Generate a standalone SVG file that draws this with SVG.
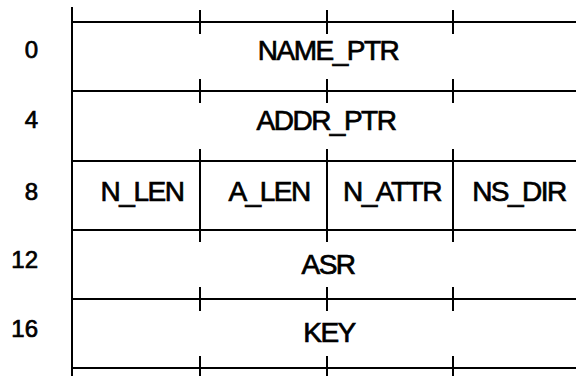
<svg xmlns="http://www.w3.org/2000/svg" width="576" height="376" viewBox="0 0 576 376">
<style>
.ln{stroke:#000;stroke-width:2;fill:none}
.lab{font-family:"Liberation Sans",Arial,sans-serif;font-size:28px;letter-spacing:-1.5px;text-anchor:middle;fill:#000;stroke:#000;stroke-width:0.7px}
.off{font-family:"Liberation Sans",Arial,sans-serif;font-size:24px;text-anchor:end;fill:#000;stroke:#000;stroke-width:0.7px}
</style>
<rect width="576" height="376" fill="#fff"/>
<g id="grid" class="ln">
<line x1="72" y1="7" x2="72" y2="376"/>
<line x1="72" y1="22" x2="576" y2="22"/>
<line x1="72" y1="91" x2="576" y2="91"/>
<line x1="72" y1="161" x2="576" y2="161"/>
<line x1="72" y1="230" x2="576" y2="230"/>
<line x1="72" y1="299" x2="576" y2="299"/>
<line x1="72" y1="368" x2="576" y2="368"/>
<path d="M200 10V34M327 10V34M453 10V34"/>
<path d="M200 79V103M327 79V103M453 79V103"/>
<path d="M200 149V242M327 149V242M453 149V242"/>
<path d="M200 287V311M327 287V311M453 287V311"/>
<path d="M200 356V376M327 356V376M453 356V376"/>
</g>
<g id="offsets">
<text class="off" x="38" y="58">0</text>
<text class="off" x="38" y="128">4</text>
<text class="off" x="38" y="199.5">8</text>
<text class="off" x="38" y="268">12</text>
<text class="off" x="38" y="337">16</text>
</g>
<g id="name_ptr"><text class="lab" x="328" y="60">NAME_PTR</text></g>
<g id="addr_ptr"><text class="lab" x="326" y="130">ADDR_PTR</text></g>
<g id="n_len"><text class="lab" x="142" y="200.5">N_LEN</text></g>
<g id="a_len"><text class="lab" x="269" y="200.5">A_LEN</text></g>
<g id="n_attr"><text class="lab" x="392" y="200.5">N_ATTR</text></g>
<g id="ns_dir"><text class="lab" x="519" y="200.5">NS_DIR</text></g>
<g id="asr"><text class="lab" x="328" y="273.5">ASR</text></g>
<g id="key"><text class="lab" x="329" y="341.5">KEY</text></g>
<g id="connectors"/>
</svg>
